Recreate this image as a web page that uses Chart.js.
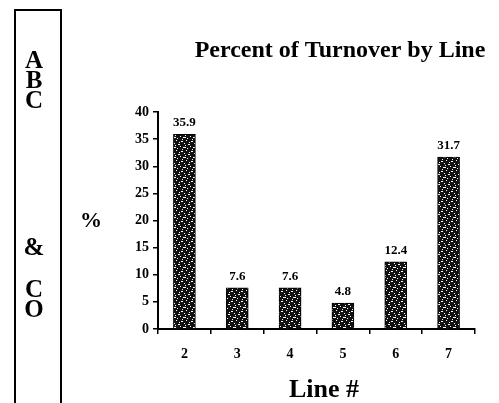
<!DOCTYPE html>
<html>
<head>
<meta charset="utf-8">
<script src="https://cdn.jsdelivr.net/npm/chart.js@4/dist/chart.umd.min.js"></script>
<style>
  html, body { margin:0; padding:0; background:#fff; }
  #wrap { position:relative; width:499px; height:403px; }
</style>
</head>
<body>
<div id="wrap"><canvas id="c" width="499" height="403"></canvas></div>
<script>
// ── Data ────────────────────────────────────────────────────────────────────
const lineNums   = ['2', '3', '4', '5', '6', '7'];
const turnover   = [35.9, 7.6, 7.6, 4.8, 12.4, 31.7];
const yTicks     = [0, 5, 10, 15, 20, 25, 30, 35, 40];
const sideLetters = ['A', 'B', 'C', '&', 'C', 'O'];

const SERIF = "'Liberation Serif', 'DejaVu Serif', serif";

// ── Speckled bar fill (scanned black texture) ───────────────────────────────
function speckle() {
  const c = document.createElement('canvas');
  c.width = 10; c.height = 10;
  const g = c.getContext('2d');
  g.fillStyle = '#111'; g.fillRect(0, 0, 10, 10);
  g.fillStyle = '#fff';
  [[1,1,2,1],[6,0,1,1],[4,3,1,1],[8,4,2,1],[0,6,1,1],[3,7,3,1],[7,8,1,1],[5,5,1,1],[2,9,1,1],[9,2,1,1]]
    .forEach(([x,y,w,h]) => g.fillRect(x, y, w, h));
  return g.createPattern(c, 'repeat');
}

// ── Decorations: side box, %, titles, value labels ──────────────────────────
const decor = {
  id:'decor',
  afterDraw(chart) {
    const ctx = chart.ctx;
    ctx.save();
    // side box
    ctx.strokeStyle = '#000'; ctx.lineWidth = 2;
    ctx.beginPath();
    ctx.moveTo(15, 403); ctx.lineTo(15, 10); ctx.lineTo(61, 10); ctx.lineTo(61, 403);
    ctx.stroke();
    ctx.fillStyle = '#000';
    ctx.textAlign = 'center'; ctx.textBaseline = 'alphabetic';
    ctx.font = `bold 25px ${SERIF}`;
    const ys = [68, 88, 108, 255, 297, 317];
    sideLetters.forEach((s, i) => ctx.fillText(s, 34, ys[i]));
    // % sign
    ctx.font = `bold 22px ${SERIF}`;
    ctx.fillText('%', 91, 227);
    // title
    ctx.font = `bold 24px ${SERIF}`;
    ctx.fillText('Percent of Turnover by Line', 340, 57);
    // x title
    ctx.font = `bold 26px ${SERIF}`;
    ctx.fillText('Line #', 324, 397);
    // value labels
    ctx.font = `bold 13px ${SERIF}`;
    const meta = chart.getDatasetMeta(0);
    meta.data.forEach((bar, i) => {
      ctx.fillText(String(turnover[i]), bar.x, bar.y - 8);
    });
    ctx.restore();
  }
};

new Chart(document.getElementById('c').getContext('2d'), {
  type:'bar',
  data:{
    labels: lineNums,
    datasets:[{
      data: turnover,
      backgroundColor: speckle(),
      borderColor:'#000', borderWidth:1,
      barThickness:22
    }]
  },
  options:{
    responsive:false, animation:false,
    layout:{ padding:{ left:120, right:24, top:112, bottom:0 } },
    plugins:{ legend:{display:false}, tooltip:{enabled:false}, title:{display:false} },
    scales:{
      x:{
        afterFit(s){ s.height = 74; },
        grid:{ display:true, drawOnChartArea:false, drawTicks:true, tickLength:5, color:'#000', lineWidth:1.5, offset:true },
        border:{ color:'#000', width:2 },
        ticks:{ color:'#000', padding:12, font:{ family:SERIF, size:14, weight:'bold' } }
      },
      y:{
        min:0, max:40,
        afterFit(s){ s.width = 38; },
        afterBuildTicks(s){ s.ticks = yTicks.map(v => ({ value:v })); },
        grid:{ display:true, drawOnChartArea:false, drawTicks:true, tickLength:5, color:'#000', lineWidth:1.5 },
        border:{ color:'#000', width:2 },
        ticks:{ color:'#000', padding:4, font:{ family:SERIF, size:14, weight:'bold' } }
      }
    }
  },
  plugins:[decor]
});
</script>
</body>
</html>
